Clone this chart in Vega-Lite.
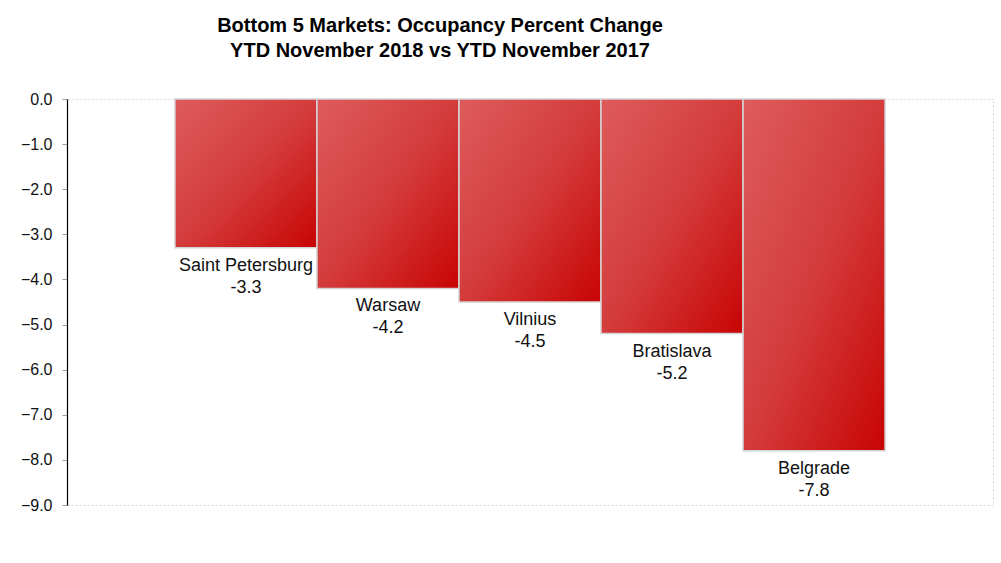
{
  "$schema": "https://vega.github.io/schema/vega-lite/v6.json",
  "autosize": "none",
  "width": 926,
  "height": 406,
  "padding": {"left": 67, "top": 99, "right": 8, "bottom": 58},
  "background": "white",
  "config": {
    "font": "Liberation Sans",
    "view": {"stroke": "#d8d8d8", "strokeDash": [2, 2], "strokeWidth": 1}
  },
  "title": {
    "text": ["Bottom 5 Markets: Occupancy Percent Change", "YTD November 2018 vs YTD November 2017"],
    "font": "Liberation Sans",
    "fontSize": 20,
    "fontWeight": "bold",
    "color": "#000000",
    "lineHeight": 25,
    "anchor": "middle",
    "dx": -90,
    "offset": 30
  },
  "data": {
    "values": [
      {"market": "Saint Petersburg", "value": -3.3, "label": "-3.3"},
      {"market": "Warsaw", "value": -4.2, "label": "-4.2"},
      {"market": "Vilnius", "value": -4.5, "label": "-4.5"},
      {"market": "Bratislava", "value": -5.2, "label": "-5.2"},
      {"market": "Belgrade", "value": -7.8, "label": "-7.8"}
    ]
  },
  "encoding": {
    "x": {
      "field": "market",
      "type": "nominal",
      "sort": null,
      "scale": {"paddingInner": 0, "paddingOuter": 0.76},
      "axis": null
    },
    "y": {
      "field": "value",
      "type": "quantitative",
      "scale": {"domain": [-9, 0], "nice": false, "zero": false},
      "axis": {
        "title": null,
        "values": [0, -1, -2, -3, -4, -5, -6, -7, -8, -9],
        "format": ".1f",
        "grid": false,
        "domain": true,
        "domainColor": "#000000",
        "domainWidth": 1.2,
        "ticks": true,
        "tickColor": "#a0a0a0",
        "tickSize": 5,
        "labelPadding": 10,
        "labelFont": "Liberation Sans",
        "labelFontSize": 16,
        "labelColor": "#111111"
      }
    }
  },
  "layer": [
    {
      "mark": {
        "type": "bar",
        "stroke": "#d4d4d4",
        "strokeWidth": 1.5,
        "color": {
          "gradient": "linear",
          "x1": 0, "y1": 0, "x2": 1, "y2": 1,
          "stops": [
            {"offset": 0, "color": "#de5c5c"},
            {"offset": 0.5, "color": "#d43c3c"},
            {"offset": 1, "color": "#c80404"}
          ]
        }
      },
      "encoding": {"y2": {"datum": 0}}
    },
    {
      "mark": {"type": "text", "baseline": "top", "align": "center", "dy": 9, "fontSize": 18, "font": "Liberation Sans", "color": "#111111"},
      "encoding": {"text": {"field": "market"}}
    },
    {
      "mark": {"type": "text", "baseline": "top", "align": "center", "dy": 31, "fontSize": 18, "font": "Liberation Sans", "color": "#111111"},
      "encoding": {"text": {"field": "label"}}
    }
  ]
}
